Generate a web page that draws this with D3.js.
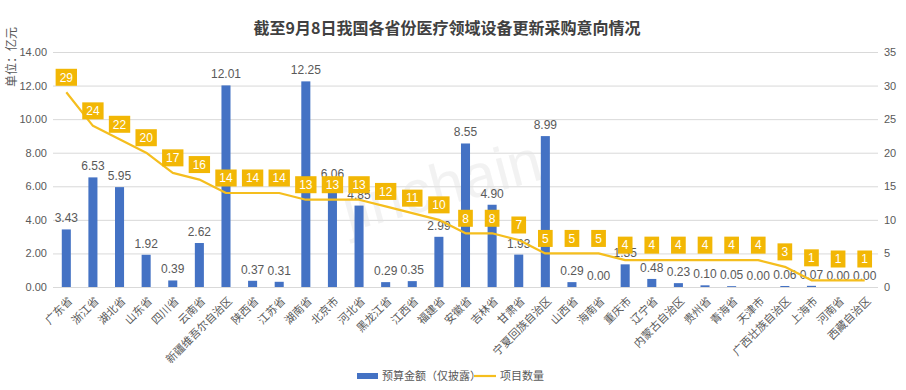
<!DOCTYPE html>
<html><head><meta charset="utf-8">
<script src="https://cdn.jsdelivr.net/npm/d3@7"></script>
<style>
html,body{margin:0;padding:0;background:#fff;}
text{font-family:"Liberation Sans","Noto Sans CJK SC",sans-serif;}
</style></head>
<body><svg id="c" width="906" height="390"></svg>
<script>
const categories = ["广东省","浙江省","湖北省","山东省","四川省","云南省","新疆维吾尔自治区","陕西省","江苏省","湖南省","北京市","河北省","黑龙江省","江西省","福建省","安徽省","吉林省","甘肃省","宁夏回族自治区","山西省","海南省","重庆市","辽宁省","内蒙古自治区","贵州省","青海省","天津市","广西壮族自治区","上海市","河南省","西藏自治区"];
const budget = [3.43,6.53,5.95,1.92,0.39,2.62,12.01,0.37,0.31,12.25,6.06,4.85,0.29,0.35,2.99,8.55,4.90,1.93,8.99,0.29,0.00,1.35,0.48,0.23,0.10,0.05,0.00,0.06,0.07,0.00,0.00];
const counts = [29,24,22,20,17,16,14,14,14,13,13,13,12,11,10,8,8,7,5,5,5,4,4,4,4,4,4,3,1,1,1];
const leftTicks = [0,2,4,6,8,10,12,14];
const rightTicks = [0,5,10,15,20,25,30,35];
const title = "截至9月8日我国各省份医疗领域设备更新采购意向情况";
const yTitle = "单位：亿元";
const seriesNames = ["预算金额（仅披露）","项目数量"];

const svg = d3.select("#c");
const L = 53, R = 878, T = 52, B = 287;
const x = d3.scaleBand().domain(categories).range([L, R]).paddingInner(0.66).paddingOuter(0.33);
const yL = d3.scaleLinear().domain([0,14]).range([B, T]);
const yR = d3.scaleLinear().domain([0,35]).range([B, T]);
const blue = "#4472C4", gold = "#F2B705", grey = "#595959";
const cjk = '"Noto Sans CJK SC",sans-serif';

// title
svg.append("text").attr("x", 447).attr("y", 34).attr("text-anchor","middle")
  .attr("font-size", 16).attr("font-weight","bold").attr("fill","#404040")
  .style("font-family",cjk).text(title);

// y title
svg.append("text").attr("transform","translate(16,57) rotate(-90)").attr("text-anchor","middle")
  .attr("font-size", 12).attr("fill", grey).style("font-family",cjk).text(yTitle);

// gridlines
svg.append("g").selectAll("line").data(leftTicks).join("line")
  .attr("x1", L).attr("x2", R).attr("y1", d=>yL(d)+0.5).attr("y2", d=>yL(d)+0.5)
  .attr("stroke","#D9D9D9").attr("stroke-width",1);

// left axis
const gl = svg.append("g").attr("transform",`translate(${L},0)`)
  .call(d3.axisLeft(yL).tickValues(leftTicks).tickFormat(d3.format(".2f")).tickSize(0).tickPadding(6));
gl.select(".domain").remove();
gl.selectAll("text").attr("font-size",11).attr("fill",grey).style("font-family",'"Liberation Sans",sans-serif');

// right axis
const gr = svg.append("g").attr("transform",`translate(${R},0)`)
  .call(d3.axisRight(yR).tickValues(rightTicks).tickSize(0).tickPadding(6));
gr.select(".domain").remove();
gr.selectAll("text").attr("font-size",11).attr("fill",grey).style("font-family",'"Liberation Sans",sans-serif');

// watermark
svg.append("text").attr("transform","translate(447,205) rotate(-15)").attr("text-anchor","middle")
  .attr("font-size",60).attr("fill","#e4e4e4").attr("opacity",0.45)
  .style("font-family",'"Liberation Sans",sans-serif').text("jinchain");

// bars
svg.append("g").selectAll("rect").data(categories).join("rect")
  .attr("x", d=>x(d)).attr("width", x.bandwidth())
  .attr("y", (d,i)=>yL(budget[i])).attr("height",(d,i)=>B - yL(budget[i]))
  .attr("fill", blue);

// bar labels
const labelBase = i => yL(budget[i]) - 7;
svg.append("g").selectAll("text").data(categories).join("text")
  .attr("x", d=>x(d)+x.bandwidth()/2).attr("y",(d,i)=>labelBase(i))
  .attr("text-anchor","middle").attr("font-size",12).attr("fill",grey)
  .text((d,i)=>d3.format(".2f")(budget[i]));

// line
const line = d3.line().x((d,i)=>x(categories[i])+x.bandwidth()/2).y(d=>yR(d));
svg.append("path").datum(counts).attr("d", line).attr("fill","none")
  .attr("stroke","#F5BE1E").attr("stroke-width",2.2).attr("stroke-linejoin","round");

// count labels (lifted above small-bar value labels to avoid collisions)
const boxY = i => {
  const p = yR(counts[i]) - 15;
  return budget[i] < 1 ? Math.min(p, labelBase(i) - 21) : p;
};
const lg = svg.append("g").selectAll("g").data(categories).join("g")
  .attr("transform",(d,i)=>`translate(${x(d)+x.bandwidth()/2},${boxY(i)})`);
lg.append("rect").attr("fill", gold);
lg.append("text").attr("text-anchor","middle").attr("dy","0.36em").attr("font-size",12)
  .attr("fill","#fff").text((d,i)=>counts[i]);
lg.each(function(){
  const g = d3.select(this);
  const w = g.select("text").node().getComputedTextLength();
  g.select("rect").attr("x", -w/2-4).attr("width", w+8).attr("y",-8.5).attr("height",17);
});

// x labels
svg.append("g").selectAll("text").data(categories).join("text")
  .attr("transform", d=>`translate(${x(d)+x.bandwidth()/2+4},${B+12}) rotate(-45)`)
  .attr("text-anchor","end").attr("dy","0.35em").attr("font-size",11).attr("fill",grey)
  .style("font-family",cjk).text(d=>d);

// legend
const leg = svg.append("g");
leg.append("rect").attr("x",357).attr("y",373).attr("width",21).attr("height",6).attr("fill",blue);
leg.append("text").attr("x",382).attr("y",376).attr("dy","0.35em").attr("font-size",11).attr("fill",grey)
  .style("font-family",cjk).text(seriesNames[0]);
leg.append("line").attr("x1",474).attr("x2",496).attr("y1",376).attr("y2",376).attr("stroke","#F5BE1E").attr("stroke-width",2.2);
leg.append("text").attr("x",500).attr("y",376).attr("dy","0.35em").attr("font-size",11).attr("fill",grey)
  .style("font-family",cjk).text(seriesNames[1]);
</script></body></html>
